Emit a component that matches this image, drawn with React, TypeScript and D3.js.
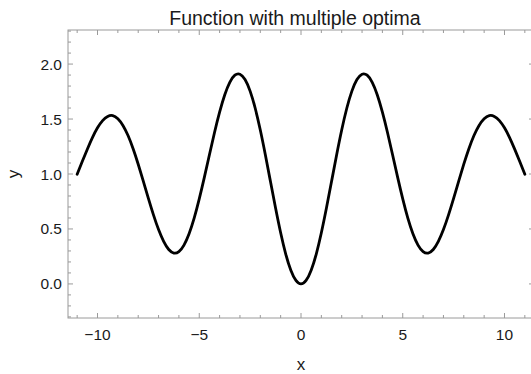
import React from "react";
import * as d3 from "d3";

const xValues = [
  -11, -10.75, -10.5, -10.25, -10, -9.75, -9.5, -9.25, -9, -8.75, -8.5, -8.25, -8, -7.75, -7.5, -7.25, -7, -6.75, -6.5, -6.25, -6, -5.75, -5.5, -5.25, -5, -4.75, -4.5, -4.25, -4, -3.75, -3.5, -3.25, -3, -2.75, -2.5, -2.25, -2, -1.75, -1.5, -1.25, -1, -0.75, -0.5, -0.25,
  0,
  0.25, 0.5, 0.75, 1, 1.25, 1.5, 1.75, 2, 2.25, 2.5, 2.75, 3, 3.25, 3.5, 3.75, 4, 4.25, 4.5, 4.75, 5, 5.25, 5.5, 5.75, 6, 6.25, 6.5, 6.75, 7, 7.25, 7.5, 7.75, 8, 8.25, 8.5, 8.75, 9, 9.25, 9.5, 9.75, 10, 10.25, 10.5, 10.75, 11,
];
const yValues = [
  0.998, 1.113, 1.226, 1.331, 1.42, 1.486, 1.524, 1.531, 1.503, 1.442, 1.35, 1.23, 1.089, 0.935, 0.778, 0.628, 0.494, 0.387, 0.313, 0.281, 0.294, 0.353, 0.456, 0.598, 0.773, 0.969, 1.175, 1.378, 1.563, 1.719, 1.834, 1.899, 1.908, 1.859, 1.754, 1.598, 1.4, 1.173, 0.931, 0.69, 0.465, 0.272, 0.125, 0.032,
  0.0,
  0.032, 0.125, 0.272, 0.465, 0.69, 0.931, 1.173, 1.4, 1.598, 1.754, 1.859, 1.908, 1.899, 1.834, 1.719, 1.563, 1.378, 1.175, 0.969, 0.773, 0.598, 0.456, 0.353, 0.294, 0.281, 0.313, 0.387, 0.494, 0.628, 0.778, 0.935, 1.089, 1.23, 1.35, 1.442, 1.503, 1.531, 1.524, 1.486, 1.42, 1.331, 1.226, 1.113, 0.998,
];
const xMajorTicks = [-10, -5, 0, 5, 10];
const yMajorTicks = [0, 0.5, 1, 1.5, 2];
const titleText = "Function with multiple optima";
const xLabel = "x";
const yLabel = "y";

export default function App() {
  const W = 531, H = 374;
  const left = 68, right = 534, top = 30, bottom = 318;
  const x = d3.scaleLinear().domain([-11.45, 11.45]).range([left, right]);
  const y = d3.scaleLinear().domain([-0.31, 2.31]).range([bottom, top]);
  const pts: [number, number][] = xValues.map((v, i) => [v, yValues[i]]);
  const line = d3.line<[number, number]>().x(d => x(d[0])).y(d => y(d[1])).curve(d3.curveNatural);
  const xMinor = d3.range(-11, 12, 1).filter(v => !xMajorTicks.includes(v));
  const yMinor = d3.range(-3, 24, 1).map(v => v / 10).filter(v => !yMajorTicks.some(m => Math.abs(m - v) < 1e-9));
  const axisColor = "#9a9a9a";
  const majorLen = 5, minorLen = 3;
  const fmtX = (v: number) => (v < 0 ? "\u2212" + Math.abs(v) : String(v));
  const fmtY = d3.format(".1f");
  const font = "'Liberation Sans', Arial, sans-serif";
  const textColor = "#1a1a1a";
  return (
    <svg width={W} height={H} style={{ position: "absolute", left: 0, top: 0, background: "#fff" }} fontFamily={font}>
      <rect x={0} y={0} width={W} height={H} fill="#fff" />
      <text x={295} y={25} textAnchor="middle" fontSize={19.5} fill={textColor}>{titleText}</text>
      <rect x={left} y={top} width={right - left} height={bottom - top} fill="none" stroke={axisColor} strokeWidth={1} />
      {xMajorTicks.map(v => (
        <g key={"xm" + v}>
          <line x1={x(v)} x2={x(v)} y1={bottom} y2={bottom - majorLen} stroke={axisColor} />
          <line x1={x(v)} x2={x(v)} y1={top} y2={top + majorLen} stroke={axisColor} />
          <text x={x(v)} y={340} textAnchor="middle" fontSize={15.5} fill={textColor}>{fmtX(v)}</text>
        </g>
      ))}
      {xMinor.map(v => (
        <g key={"xn" + v}>
          <line x1={x(v)} x2={x(v)} y1={bottom} y2={bottom - minorLen} stroke={axisColor} />
          <line x1={x(v)} x2={x(v)} y1={top} y2={top + minorLen} stroke={axisColor} />
        </g>
      ))}
      {yMajorTicks.map(v => (
        <g key={"ym" + v}>
          <line x1={left} x2={left + majorLen} y1={y(v)} y2={y(v)} stroke={axisColor} />
          <line x1={right} x2={right - majorLen} y1={y(v)} y2={y(v)} stroke={axisColor} />
          <text x={left - 6} y={y(v) + 5.5} textAnchor="end" fontSize={15.5} fill={textColor}>{fmtY(v)}</text>
        </g>
      ))}
      {yMinor.map(v => (
        <g key={"yn" + v}>
          <line x1={left} x2={left + minorLen} y1={y(v)} y2={y(v)} stroke={axisColor} />
          <line x1={right} x2={right - minorLen} y1={y(v)} y2={y(v)} stroke={axisColor} />
        </g>
      ))}
      <path d={line(pts) || ""} fill="none" stroke="#000" strokeWidth={2.8} strokeLinejoin="round" strokeLinecap="round" />
      <text x={301} y={370} textAnchor="middle" fontSize={17} fill={textColor}>{xLabel}</text>
      <text transform={`translate(19,${(top + bottom) / 2}) rotate(-90)`} textAnchor="middle" fontSize={17} fill={textColor}>{yLabel}</text>
    </svg>
  );
}
